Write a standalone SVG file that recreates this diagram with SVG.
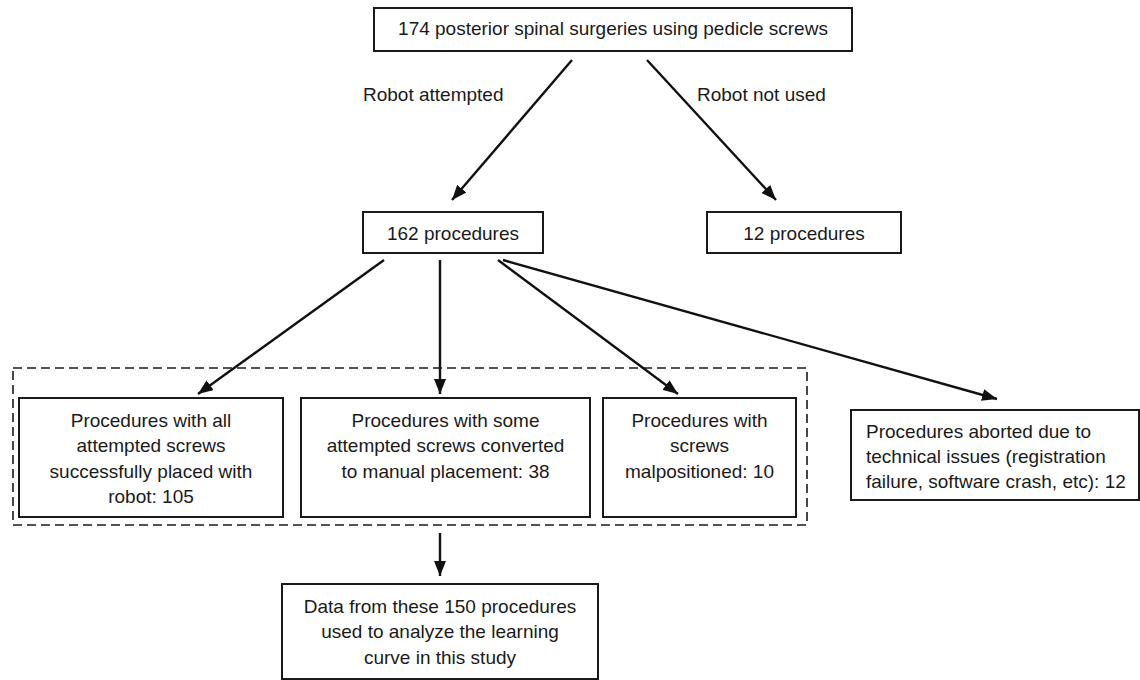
<svg xmlns="http://www.w3.org/2000/svg" width="1140" height="680" viewBox="0 0 1140 680">
  <style>
    .box { fill: #ffffff; stroke: #1a1a1a; stroke-width: 2; }
    .dash { fill: none; stroke: #1a1a1a; stroke-width: 1.6; stroke-dasharray: 9 5; }
    .conn { stroke: #111111; stroke-width: 2.4; fill: none; marker-end: url(#arrow); }
    text { font-family: "Liberation Sans", Arial, sans-serif; font-size: 19px; fill: #1a1a1a; }
    .c { text-anchor: middle; }
  </style>
  <defs>
    <marker id="arrow" markerUnits="userSpaceOnUse" markerWidth="15" markerHeight="12" refX="15" refY="6" orient="auto">
      <path d="M0,0 L15,6 L0,12 z" fill="#111111"/>
    </marker>
  </defs>
  <rect width="1140" height="680" fill="#ffffff"/>

  <g id="connectors">
    <line class="conn" x1="572" y1="60" x2="452" y2="200"/>
    <line class="conn" x1="647" y1="60" x2="776" y2="200"/>
    <line class="conn" x1="384" y1="260" x2="198" y2="394"/>
    <line class="conn" x1="440" y1="260" x2="440" y2="394"/>
    <line class="conn" x1="498" y1="260" x2="678" y2="394"/>
    <line class="conn" x1="503" y1="260" x2="997" y2="399"/>
    <line class="conn" x1="440" y1="533" x2="440" y2="576"/>
    <text x="363" y="101">Robot attempted</text>
    <text x="697" y="101">Robot not used</text>
  </g>

  <g id="group-included">
    <rect class="dash" x="13" y="368" width="794" height="157"/>
  </g>

  <g id="n-total">
    <rect class="box" x="374" y="8" width="478" height="43"/>
    <text class="c" x="613" y="35">174 posterior spinal surgeries using pedicle screws</text>
  </g>

  <g id="n-162">
    <rect class="box" x="363" y="212" width="180" height="41"/>
    <text class="c" x="453" y="240">162 procedures</text>
  </g>

  <g id="n-12">
    <rect class="box" x="707" y="212" width="194" height="41"/>
    <text class="c" x="804" y="240">12 procedures</text>
  </g>

  <g id="n-success">
    <rect class="box" x="19" y="398" width="264" height="119"/>
    <text class="c" x="151" y="427">Procedures with all</text>
    <text class="c" x="151" y="452">attempted screws</text>
    <text class="c" x="151" y="478">successfully placed with</text>
    <text class="c" x="151" y="503">robot: 105</text>
  </g>

  <g id="n-converted">
    <rect class="box" x="301" y="398" width="289" height="119"/>
    <text class="c" x="445.5" y="427">Procedures with some</text>
    <text class="c" x="445.5" y="452">attempted screws converted</text>
    <text class="c" x="445.5" y="478">to manual placement: 38</text>
  </g>

  <g id="n-malpositioned">
    <rect class="box" x="603" y="398" width="193" height="119"/>
    <text class="c" x="699.5" y="427">Procedures with</text>
    <text class="c" x="699.5" y="452">screws</text>
    <text class="c" x="699.5" y="478">malpositioned: 10</text>
  </g>

  <g id="n-aborted">
    <rect class="box" x="851" y="410" width="288" height="90"/>
    <text x="866" y="438">Procedures aborted due to</text>
    <text x="866" y="463">technical issues (registration</text>
    <text x="866" y="488">failure, software crash, etc): 12</text>
  </g>

  <g id="n-data">
    <rect class="box" x="282" y="584" width="316" height="95"/>
    <text class="c" x="440" y="613">Data from these 150 procedures</text>
    <text class="c" x="440" y="638">used to analyze the learning</text>
    <text class="c" x="440" y="664">curve in this study</text>
  </g>
</svg>
